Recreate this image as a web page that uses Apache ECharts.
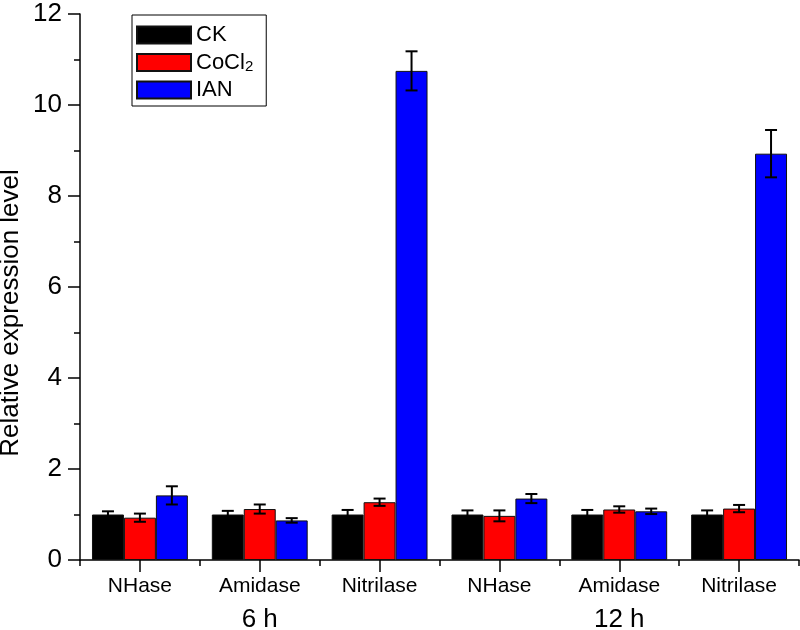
<!DOCTYPE html>
<html>
<head>
<meta charset="utf-8">
<script src="https://cdn.jsdelivr.net/npm/echarts@6/dist/echarts.min.js"></script>
<style>
  html, body { margin: 0; padding: 0; background: #fff; }
  #main { width: 800px; height: 630px; }
</style>
</head>
<body>
<div id="main"></div>
<script>
var categories = ['NHase', 'Amidase', 'Nitrilase', 'NHase', 'Amidase', 'Nitrilase'];
var groupLabels = ['', '6 h', '', '', '12 h', ''];
var ck = [1.00, 1.00, 1.00, 1.00, 1.00, 1.00];
var ckErr = [0.07, 0.08, 0.10, 0.09, 0.10, 0.09];
var cocl2 = [0.93, 1.12, 1.27, 0.97, 1.11, 1.13];
var cocl2Err = [0.09, 0.10, 0.08, 0.12, 0.07, 0.08];
var ian = [1.42, 0.87, 10.75, 1.35, 1.07, 8.93];
var ianErr = [0.20, 0.05, 0.43, 0.10, 0.06, 0.52];
var yTicks = [0, 2, 4, 6, 8, 10, 12];

var font = '"Liberation Sans", Arial, sans-serif';
var myChart = echarts.init(document.getElementById('main'));

// error bar data: [index, low, high]
function errData(vals, errs) {
    return vals.map(function (v, i) { return [i, v - errs[i], v + errs[i]]; });
}

// offset: -1, 0, 1 -> position of the bar in the group
function errSeries(vals, errs, offset) {
    return {
        type: 'custom',
        z: 10,
        silent: true,
        data: errData(vals, errs),
        encode: { x: 0, y: [1, 2] },
        renderItem: function (params, api) {
            var band = api.size([1, 0])[0];
            var barW = band * 0.8 / 3;
            var lo = api.coord([api.value(0), api.value(1)]);
            var hi = api.coord([api.value(0), api.value(2)]);
            var x = lo[0] + offset * barW;
            var cap = 6;
            var style = { stroke: '#000', lineWidth: 2 };
            return {
                type: 'group',
                children: [
                    { type: 'line', shape: { x1: x, y1: lo[1], x2: x, y2: hi[1] }, style: style },
                    { type: 'line', shape: { x1: x - cap, y1: hi[1], x2: x + cap, y2: hi[1] }, style: style },
                    { type: 'line', shape: { x1: x - cap, y1: lo[1], x2: x + cap, y2: lo[1] }, style: style }
                ]
            };
        }
    };
}

function barSeries(name, vals, color) {
    return {
        name: name,
        type: 'bar',
        data: vals,
        barGap: '0%',
        barCategoryGap: '20%',
        itemStyle: { color: color, borderColor: '#111', borderWidth: 1 }
    };
}

var option = {
    animation: false,
    backgroundColor: '#fff',
    textStyle: { fontFamily: font, color: '#000' },
    grid: { left: 80, right: 1, top: 14, bottom: 70, outerBoundsMode: 'none', containLabel: false },
    legend: {
        orient: 'vertical',
        left: 132,
        top: 15,
        padding: [9, 13, 5, 4],
        itemWidth: 54,
        itemHeight: 17,
        itemGap: 5,
        borderColor: '#000',
        borderWidth: 1,
        icon: 'rect',
        data: ['CK', 'CoCl2', 'IAN'],
        formatter: function (name) {
            return name === 'CoCl2' ? '{t|CoCl}{s|2}' : '{t|' + name + '}';
        },
        textStyle: {
            fontFamily: font,
            fontSize: 22,
            color: '#000',
            rich: {
                t: { fontSize: 22, lineHeight: 23, fontFamily: font, color: '#000' },
                s: { fontSize: 15, lineHeight: 15, padding: [8, 0, 0, 0], fontFamily: font, color: '#000' }
            }
        }
    },
    xAxis: [
        {
            type: 'category',
            position: 'bottom',
            data: categories,
            axisLine: { lineStyle: { color: '#000', width: 1.5 } },
            axisTick: { show: true, length: 6, lineStyle: { color: '#000', width: 1.5 } },
            axisLabel: { fontSize: 21, color: '#000', fontFamily: font, margin: 16 }
        },
        {
            type: 'category',
            position: 'bottom',
            data: groupLabels,
            axisLine: { show: false },
            axisTick: { show: true, alignWithLabel: true, length: 12, lineStyle: { color: '#000', width: 1.5 } },
            axisLabel: { fontSize: 26, color: '#000', fontFamily: font, margin: 47, interval: 0 }
        }
    ],
    yAxis: {
        type: 'value',
        min: yTicks[0],
        max: yTicks[yTicks.length - 1],
        interval: 2,
        name: 'Relative expression level',
        nameLocation: 'middle',
        nameGap: 56,
        nameMoveOverlap: false,
        nameTextStyle: { fontSize: 26, color: '#000', fontFamily: font, padding: [0, 52, 0, 0] },
        axisLine: { show: true, lineStyle: { color: '#000', width: 1.5 } },
        axisTick: { show: true, length: 12, lineStyle: { color: '#000', width: 1.5 } },
        minorTick: { show: true, splitNumber: 2, length: 6, lineStyle: { color: '#000', width: 1.5 } },
        splitLine: { show: false },
        axisLabel: { fontSize: 26, color: '#000', fontFamily: font, margin: 18 }
    },
    series: [
        barSeries('CK', ck, '#000000'),
        barSeries('CoCl2', cocl2, '#ff0000'),
        barSeries('IAN', ian, '#0000ff'),
        errSeries(ck, ckErr, -1),
        errSeries(cocl2, cocl2Err, 0),
        errSeries(ian, ianErr, 1)
    ]
};

myChart.setOption(option);
</script>
</body>
</html>
